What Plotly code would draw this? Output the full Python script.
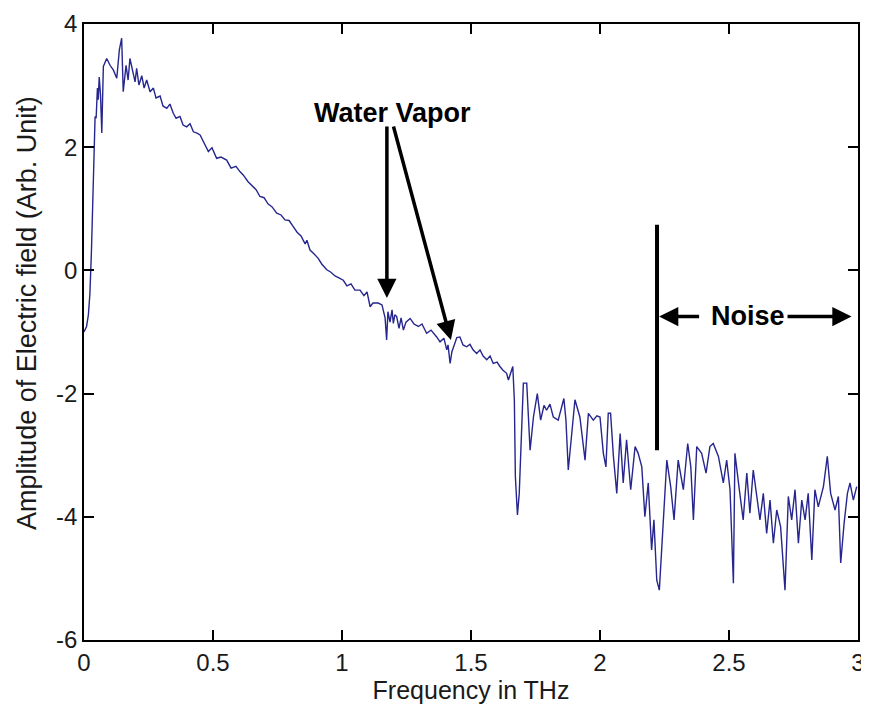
import plotly.graph_objects as go

# Frequency (THz) and amplitude (arb. unit)
freq = [0.000, 0.010, 0.017, 0.023, 0.029, 0.034, 0.039, 0.043, 0.047, 0.052,
        0.055, 0.059, 0.064, 0.069, 0.075, 0.088, 0.101, 0.114, 0.127, 0.137,
        0.146, 0.152, 0.163, 0.171, 0.178, 0.191, 0.198, 0.204, 0.213, 0.224,
        0.233, 0.243, 0.256, 0.269, 0.279, 0.295, 0.306, 0.321, 0.333, 0.346,
        0.357, 0.372, 0.384, 0.398, 0.411, 0.424, 0.438, 0.450, 0.465, 0.482,
        0.496, 0.514, 0.531, 0.553, 0.570, 0.589, 0.605, 0.617, 0.636, 0.651,
        0.667, 0.682, 0.698, 0.713, 0.729, 0.747, 0.764, 0.779, 0.795, 0.811,
        0.826, 0.841, 0.857, 0.864, 0.876, 0.891, 0.907, 0.922, 0.941, 0.957,
        0.973, 0.988, 1.005, 1.019, 1.035, 1.050, 1.070, 1.085, 1.097, 1.109,
        1.120, 1.140, 1.155, 1.167, 1.173, 1.178, 1.186, 1.194, 1.199, 1.205,
        1.212, 1.221, 1.229, 1.238, 1.248, 1.264, 1.279, 1.296, 1.310, 1.328,
        1.345, 1.367, 1.380, 1.395, 1.406, 1.411, 1.419, 1.426, 1.445, 1.457,
        1.469, 1.483, 1.496, 1.508, 1.522, 1.535, 1.547, 1.561, 1.574, 1.586,
        1.601, 1.612, 1.624, 1.638, 1.645, 1.662, 1.668, 1.672, 1.680, 1.687,
        1.697, 1.703, 1.716, 1.729, 1.742, 1.757, 1.770, 1.783, 1.793, 1.806,
        1.819, 1.838, 1.860, 1.868, 1.877, 1.890, 1.903, 1.922, 1.942, 1.955,
        1.974, 1.988, 2.000, 2.013, 2.023, 2.032, 2.041, 2.052, 2.065, 2.078,
        2.090, 2.103, 2.119, 2.136, 2.148, 2.162, 2.174, 2.187, 2.200, 2.209,
        2.220, 2.230, 2.243, 2.259, 2.274, 2.287, 2.303, 2.323, 2.340, 2.352,
        2.362, 2.375, 2.394, 2.411, 2.426, 2.439, 2.459, 2.478, 2.491, 2.504,
        2.517, 2.523, 2.540, 2.555, 2.569, 2.581, 2.594, 2.607, 2.620, 2.633,
        2.646, 2.659, 2.672, 2.685, 2.700, 2.717, 2.730, 2.743, 2.756, 2.769,
        2.782, 2.795, 2.807, 2.821, 2.833, 2.846, 2.866, 2.881, 2.894, 2.911,
        2.924, 2.933, 2.946, 2.959, 2.969, 2.982, 2.995]

amplitude = [-1.00, -0.91, -0.72, -0.37, 0.33, 1.09, 1.95, 2.50, 2.47, 2.96,
             2.77, 3.14, 2.85, 2.23, 3.31, 3.44, 3.33, 3.25, 3.12, 3.58,
             3.77, 2.90, 3.33, 3.09, 3.44, 3.20, 3.06, 3.28, 3.01, 3.16,
             2.96, 3.09, 2.90, 2.96, 2.80, 2.83, 2.67, 2.63, 2.70, 2.55,
             2.47, 2.50, 2.36, 2.33, 2.38, 2.25, 2.23, 2.20, 2.08, 1.93,
             1.99, 1.82, 1.84, 1.79, 1.66, 1.69, 1.60, 1.55, 1.44, 1.37,
             1.31, 1.20, 1.18, 1.08, 1.03, 0.93, 0.90, 0.82, 0.81, 0.71,
             0.62, 0.56, 0.43, 0.49, 0.33, 0.27, 0.20, 0.10, 0.01, -0.03,
             -0.09, -0.12, -0.16, -0.25, -0.22, -0.32, -0.32, -0.41, -0.35, -0.59,
             -0.53, -0.53, -0.56, -0.77, -1.13, -0.67, -0.84, -0.64, -0.86, -0.72,
             -0.75, -0.94, -0.77, -0.97, -0.84, -0.78, -0.87, -0.91, -0.87, -1.02,
             -0.97, -1.08, -1.16, -1.10, -1.29, -1.21, -1.51, -1.32, -1.09, -1.08,
             -1.21, -1.24, -1.20, -1.29, -1.35, -1.29, -1.39, -1.45, -1.39, -1.51,
             -1.49, -1.56, -1.62, -1.67, -1.78, -1.56, -2.10, -3.35, -3.97, -3.62,
             -2.65, -1.83, -1.83, -2.92, -2.38, -2.00, -2.43, -2.19, -2.27, -2.17,
             -2.38, -2.43, -2.08, -2.43, -3.24, -2.65, -2.10, -2.38, -3.08, -2.32,
             -2.43, -2.36, -2.38, -2.97, -3.19, -2.32, -2.32, -3.02, -3.62, -2.65,
             -3.45, -2.75, -3.56, -2.86, -2.97, -3.19, -4.00, -3.45, -4.54, -4.05,
             -5.03, -5.19, -4.27, -3.08, -3.51, -4.05, -3.08, -3.56, -2.81, -3.19,
             -4.05, -2.86, -2.97, -3.29, -2.86, -2.81, -3.02, -3.45, -3.08, -3.56,
             -5.08, -2.97, -3.56, -4.05, -3.29, -3.94, -3.24, -3.62, -4.05, -3.62,
             -4.27, -3.73, -4.43, -3.89, -4.16, -5.19, -3.67, -4.05, -3.56, -4.43,
             -3.73, -4.05, -3.62, -4.70, -3.56, -3.84, -3.51, -3.02, -3.62, -3.89,
             -3.67, -4.75, -4.11, -3.62, -3.45, -3.73, -3.51]

x_ticks = [0, 0.5, 1, 1.5, 2, 2.5, 3]
x_tick_labels = ["0", "0.5", "1", "1.5", "2", "2.5", "3"]
y_ticks = [-6, -4, -2, 0, 2, 4]
y_tick_labels = ["-6", "-4", "-2", "0", "2", "4"]
x_title = "Frequency in THz"
y_title = "Amplitude of Electric field (Arb. Unit)"

# annotation anchors (data units)
wv_label = (1.194, 2.55)
wv_tail_1 = (1.174, 2.36)
wv_tip_1 = (1.174, -0.45)
wv_tail_2 = (1.198, 2.36)
wv_tip_2 = (1.422, -1.13)
noise_label = (2.574, -0.74)
noise_left_tail, noise_left_tip = (2.390, -0.75), (2.229, -0.75)
noise_right_tail, noise_right_tip = (2.721, -0.75), (2.975, -0.75)
noise_bar_x, noise_bar_y0, noise_bar_y1 = 2.221, 0.74, -2.92

FONT = "Liberation Sans, Arial, sans-serif"
TXT = "#1a1a1a"

fig = go.Figure()
fig.add_trace(go.Scatter(x=freq, y=amplitude, mode="lines",
                         line=dict(color="#26268e", width=1.4),
                         showlegend=False, hoverinfo="skip"))

axis_common = dict(showline=True, linecolor="black", linewidth=1.6, mirror="allticks",
                   ticks="inside", ticklen=10, tickwidth=1.6, tickcolor="black",
                   showgrid=False, zeroline=False, automargin=False,
                   tickfont=dict(family=FONT, size=24, color=TXT))

fig.update_xaxes(range=[0, 3], tickvals=x_ticks, ticktext=x_tick_labels,
                 title=dict(text=x_title, font=dict(family=FONT, size=25, color=TXT),
                            standoff=4),
                 **axis_common)
fig.update_yaxes(range=[-6, 4], tickvals=y_ticks, ticktext=y_tick_labels, **axis_common)

ann_font = dict(family=FONT, size=27, color="black")
arrow_common = dict(xref="x", yref="y", axref="x", ayref="y", text="", showarrow=True,
                    arrowhead=2, arrowsize=1.1, arrowwidth=3.5, arrowcolor="black",
                    standoff=0, startstandoff=0)
annotations = [
    # y-axis title, placed slightly above the axis centre as in the reference
    dict(x=0, y=0.531, xref="paper", yref="paper", xshift=-57, text=y_title,
         textangle=-90, showarrow=False, xanchor="center", yanchor="middle",
         font=dict(family=FONT, size=27, color=TXT)),
    dict(x=wv_label[0], y=wv_label[1], xref="x", yref="y", text="<b>Water Vapor</b>",
         showarrow=False, font=ann_font),
    dict(x=wv_tip_1[0], y=wv_tip_1[1], ax=wv_tail_1[0], ay=wv_tail_1[1], **arrow_common),
    dict(x=wv_tip_2[0], y=wv_tip_2[1], ax=wv_tail_2[0], ay=wv_tail_2[1], **arrow_common),
    dict(x=noise_label[0], y=noise_label[1], xref="x", yref="y", text="<b>Noise</b>",
         showarrow=False, font=ann_font),
    dict(x=noise_left_tip[0], y=noise_left_tip[1], ax=noise_left_tail[0], ay=noise_left_tail[1],
         **arrow_common),
    dict(x=noise_right_tip[0], y=noise_right_tip[1], ax=noise_right_tail[0], ay=noise_right_tail[1],
         **arrow_common),
]

fig.add_shape(type="line", xref="x", yref="y", x0=noise_bar_x, x1=noise_bar_x,
              y0=noise_bar_y0, y1=noise_bar_y1, line=dict(color="black", width=4))

# the page body keeps an 8px default margin, so size/margins compensate for it
fig.update_layout(width=861, height=703, margin=dict(l=76, r=11, t=16, b=71),
                  paper_bgcolor="white", plot_bgcolor="white",
                  annotations=annotations, font=dict(family=FONT))

fig.write_html("out.html")
